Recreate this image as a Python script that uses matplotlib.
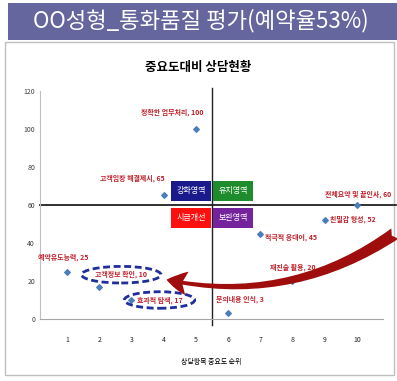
import matplotlib
matplotlib.use('Agg')
import matplotlib.pyplot as plt
from matplotlib.patches import Rectangle, FancyArrowPatch

plt.rcParams['font.family'] = ['Noto Sans CJK KR', 'DejaVu Sans']

# data
rank = [1, 2, 3, 4, 5, 6, 7, 8, 9, 10]
score = [25, 17, 10, 65, 100, 3, 45, 20, 52, 60]
labels = ['예약유도능력, 25', '고객정보 확인, 10', '효과적 탐색, 17', '고객입장 해결제시, 65',
          '정확한 업무처리, 100', '문의내용 인식, 3', '적극적 응대어, 45', '재진술 활용, 20',
          '친밀감 형성, 52', '전체요약 및 끝인사, 60']
# label offsets (pixels) and alignment, per point
label_off = [(-4, 14), (22, 12), (28, 0), (1, 17), (8, 17), (12, 14), (5, -4), (0, 14), (5, 1), (1, 11)]
label_ha = ['center', 'center', 'center', 'right', 'right', 'center', 'left', 'center', 'left', 'center']
circled = [1, 2]

zones = ['강화영역', '유지영역', '시급개선', '보완영역']
zone_colors = ['#1A1A8C', '#1E8C2C', '#FF1010', '#74239C']
zone_off = [(-21, 14), (21, 14), (-21, -13), (21, -13)]

x_cut = 5.5
y_cut = 60

title = 'OO성형_통화품질 평가(예약율53%)'
chart_title = '중요도대비 상담현황'
xlabel = '상담항목 중요도 순위'

px = 0.72  # pixels -> points at dpi 100

fig = plt.figure(figsize=(3.97, 3.81), dpi=100)

# banner and panel
fig.patches.append(Rectangle((0.02, 0.895), 0.98, 0.097, transform=fig.transFigure,
                             facecolor='#66669E', edgecolor='none', zorder=-10))
fig.patches.append(Rectangle((0.0126, 0.0157), 0.98, 0.874, transform=fig.transFigure,
                             facecolor='white', edgecolor='#BFBFBF', lw=1, zorder=-10))
fig.text(0.505, 0.945, title, color='white', fontsize=16, fontweight='medium', ha='center', va='center')
fig.text(0.5, 0.823, chart_title, fontsize=9, fontweight='bold', ha='center', va='center')

ax = fig.add_axes([0.1008, 0.1627, 0.8639, 0.5985])
ax.set_facecolor('none')
ax.set_xlim(0.16, 10.81)
ax.set_ylim(0, 120)
ax.set_xticks(range(1, 11))
ax.set_yticks(range(0, 121, 20))
ax.tick_params(axis='x', length=0, pad=12, labelsize=5)
ax.tick_params(axis='y', length=0, pad=3.6, labelsize=5, colors='#404040')
ax.tick_params(axis='x', colors='#202020')
for s in ['top', 'right']:
    ax.spines[s].set_visible(False)
ax.spines['left'].set_color('#BFBFBF')
ax.spines['bottom'].set_color('#A6A6A6')
ax.set_xlabel(xlabel, fontsize=5, labelpad=10)

# quadrant lines
ax.plot([0.16, 11.2], [y_cut, y_cut], color='#202020', lw=1.3, clip_on=False, zorder=2)
ax.plot([x_cut, x_cut], [-3.2, 121.6], color='#202020', lw=1.0, clip_on=False, zorder=2)

ax.scatter(rank, score, marker='D', s=8, color='#4A7EBB', zorder=3)

for i, txt in enumerate(labels):
    dx, dy = label_off[i]
    kw = {}
    if i in circled:
        kw['bbox'] = dict(boxstyle='ellipse,pad=0.3', fc='none', ec='#1F2E9A', lw=2, ls=(0, (2.5, 1.3)))
    ax.annotate(txt, (rank[i], score[i]), xytext=(dx * px, dy * px), textcoords='offset points',
                ha=label_ha[i], va='center', fontsize=5, fontweight='bold', color='#C0202A',
                zorder=4, **kw)

for z, c, (dx, dy) in zip(zones, zone_colors, zone_off):
    ax.annotate(z, (x_cut, y_cut), xytext=(dx * px, dy * px), textcoords='offset points',
                ha='center', va='center', fontsize=5.8, color='white', zorder=5,
                bbox=dict(boxstyle='square,pad=0.7', fc=c, ec='none'))

# curved red arrow pointing at the circled items
arrow = FancyArrowPatch((11.25, 45.8), (4.0, 21), connectionstyle='arc3,rad=-0.22',
                        arrowstyle='fancy,head_length=0.75,head_width=0.85,tail_width=0.45',
                        mutation_scale=20, fc='#A00D0D', ec='none', clip_on=False, zorder=6)
ax.add_patch(arrow)

fig.savefig('out.png', dpi=100)
